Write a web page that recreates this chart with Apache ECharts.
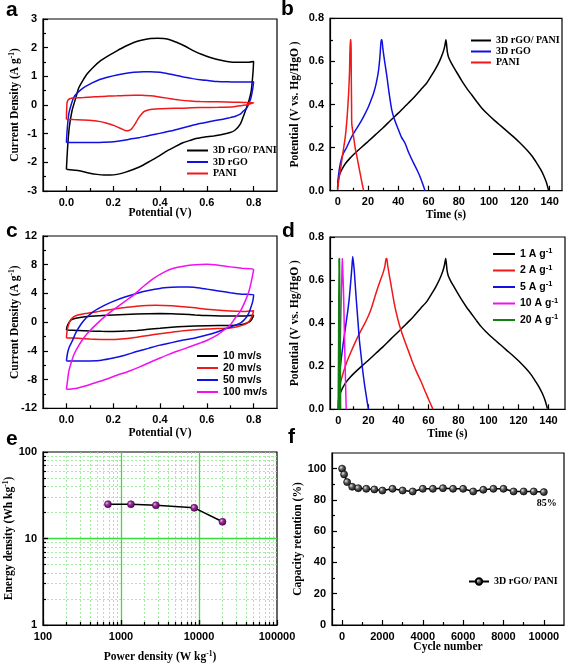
<!DOCTYPE html>
<html><head><meta charset="utf-8">
<script src="https://cdn.jsdelivr.net/npm/echarts@6/dist/echarts.min.js"></script>
<style>html,body{margin:0;padding:0;background:#fff}#c{width:567px;height:664px}</style>
</head><body><div id="c"></div><script>
// ---------- DATA ----------
// (a) CV at 10 mV/s : [potential V, current A/g]
const aCompositeCV = [[0,-2.24],[0.005,-1.5],[0.012,-0.8],[0.024,-0.2],[0.04,0.25],[0.053,0.6],[0.07,0.85],[0.088,1.08],[0.115,1.32],[0.145,1.54],[0.18,1.72],[0.216,1.89],[0.25,2.04],[0.288,2.18],[0.32,2.26],[0.359,2.32],[0.39,2.33],[0.416,2.32],[0.445,2.27],[0.473,2.18],[0.51,2.04],[0.544,1.89],[0.58,1.76],[0.615,1.66],[0.65,1.58],[0.686,1.52],[0.73,1.49],[0.77,1.49],[0.8,1.52],
  [0.798,1.2],[0.795,0.9],[0.79,0.5],[0.78,0.15],[0.765,-0.2],[0.743,-0.67],[0.72,-0.88],[0.7,-0.96],[0.66,-1.04],[0.629,-1.08],[0.59,-1.12],[0.558,-1.16],[0.53,-1.23],[0.5,-1.31],[0.465,-1.45],[0.43,-1.6],[0.395,-1.78],[0.359,-1.95],[0.325,-2.11],[0.288,-2.24],[0.25,-2.35],[0.216,-2.42],[0.188,-2.44],[0.16,-2.44],[0.131,-2.42],[0.1,-2.38],[0.074,-2.33],[0.04,-2.28],[0,-2.24]];
const aRgoCV = [[0,-1.31],[0.003,-0.9],[0.01,-0.32],[0.02,0.0],[0.031,0.26],[0.05,0.45],[0.074,0.61],[0.11,0.77],[0.145,0.9],[0.18,0.98],[0.216,1.05],[0.25,1.1],[0.288,1.14],[0.33,1.16],[0.359,1.16],[0.4,1.14],[0.43,1.1],[0.465,1.04],[0.5,0.98],[0.54,0.92],[0.572,0.88],[0.61,0.85],[0.644,0.82],[0.68,0.81],[0.715,0.8],[0.76,0.8],[0.8,0.81],
  [0.797,0.6],[0.789,0.26],[0.78,0.05],[0.772,-0.09],[0.755,-0.22],[0.743,-0.32],[0.72,-0.4],[0.7,-0.44],[0.67,-0.5],[0.629,-0.55],[0.59,-0.62],[0.558,-0.67],[0.52,-0.75],[0.487,-0.82],[0.45,-0.9],[0.416,-0.96],[0.38,-1.02],[0.345,-1.08],[0.31,-1.14],[0.273,-1.19],[0.24,-1.24],[0.202,-1.28],[0.16,-1.3],[0.131,-1.31],[0.06,-1.31],[0,-1.31]];
const aPaniCV = [[0,-0.5],[0.001,-0.2],[0.003,0.09],[0.008,0.18],[0.017,0.23],[0.04,0.25],[0.074,0.26],[0.11,0.28],[0.145,0.3],[0.18,0.31],[0.216,0.32],[0.25,0.33],[0.288,0.34],[0.32,0.34],[0.359,0.32],[0.39,0.29],[0.43,0.24],[0.46,0.2],[0.487,0.17],[0.53,0.14],[0.572,0.12],[0.65,0.11],[0.715,0.1],[0.76,0.09],[0.8,0.08],
  [0.79,0.05],[0.772,0.01],[0.74,-0.03],[0.715,-0.06],[0.65,-0.08],[0.572,-0.09],[0.5,-0.11],[0.43,-0.12],[0.38,-0.14],[0.359,-0.16],[0.34,-0.2],[0.33,-0.24],[0.32,-0.33],[0.309,-0.44],[0.298,-0.6],[0.288,-0.73],[0.28,-0.82],[0.273,-0.87],[0.262,-0.9],[0.252,-0.89],[0.235,-0.83],[0.224,-0.79],[0.205,-0.72],[0.188,-0.67],[0.165,-0.62],[0.145,-0.58],[0.11,-0.54],[0.074,-0.52],[0.03,-0.51],[0,-0.5]];
const aNames = ['3D rGO/ PANI', '3D rGO', 'PANI'];

// (b) GCD at 1 A/g : [time s, potential V]
const bCompositeGCD = [[0,0.035],[1,0.07],[2.5,0.095],[5,0.125],[8,0.15],[10.5,0.168],[15,0.197],[20,0.228],[25,0.26],[30,0.292],[35,0.327],[40,0.36],[45,0.395],[50,0.43],[55,0.47],[58.8,0.5],[62,0.535],[65,0.57],[67.5,0.605],[69.5,0.64],[70.7,0.67],[71.5,0.70],
  [71.9,0.68],[72.4,0.645],[73.2,0.62],[74.5,0.6],[76.5,0.575],[79,0.545],[82,0.51],[85.3,0.475],[88.5,0.445],[91.9,0.413],[95,0.385],[98.5,0.359],[103,0.33],[107.4,0.303],[112,0.275],[116.2,0.25],[120,0.225],[125,0.189],[128.5,0.16],[131.6,0.127],[134,0.1],[136,0.072],[137.8,0.04],[139.3,0.003]];
const bRgoGCD = [[0,0.02],[0.5,0.07],[1.75,0.127],[3.5,0.17],[6.1,0.204],[8.5,0.24],[10.5,0.266],[14,0.305],[17.1,0.344],[20,0.385],[22,0.42],[23.7,0.452],[25.5,0.5],[27,0.56],[28,0.63],[28.7,0.70],
  [29.2,0.70],[29.8,0.66],[31,0.6],[32.5,0.53],[34,0.45],[35.7,0.375],[37.5,0.33],[40,0.285],[42,0.25],[44.5,0.22],[47,0.175],[50,0.13],[52.5,0.095],[54.4,0.065],[56,0.035],[57.7,0.0]];
const bPaniGCD = [[0,0.003],[0.5,0.04],[1.75,0.096],[3.3,0.17],[5,0.25],[6.2,0.34],[7.2,0.452],[7.8,0.55],[8.3,0.70],
  [8.8,0.70],[8.9,0.6],[9.0,0.5],[9.15,0.4],[9.3,0.31],[10.5,0.25],[11.5,0.2],[12.7,0.158],[14,0.11],[15.5,0.055],[17.1,0.0]];

// (c) CV of 3D rGO/PANI at different scan rates
const cScan10 = [[0,-1.1],[0.003,-0.6],[0.01,-0.1],[0.02,0.3],[0.04,0.55],[0.08,0.75],[0.14,0.9],[0.2,1.0],[0.3,1.15],[0.4,1.2],[0.45,1.18],[0.5,1.1],[0.55,1.0],[0.6,0.92],[0.7,0.85],[0.76,0.85],[0.8,0.95],
  [0.797,0.7],[0.79,0.3],[0.78,0.0],[0.76,-0.25],[0.74,-0.38],[0.7,-0.45],[0.6,-0.5],[0.5,-0.6],[0.45,-0.7],[0.4,-0.85],[0.35,-1.0],[0.3,-1.15],[0.25,-1.25],[0.2,-1.3],[0.15,-1.28],[0.1,-1.22],[0.05,-1.15],[0,-1.1]];
const cScan20 = [[0,-2.2],[0.003,-1.2],[0.01,-0.3],[0.02,0.4],[0.04,0.9],[0.08,1.2],[0.14,1.5],[0.2,1.8],[0.3,2.2],[0.38,2.35],[0.45,2.3],[0.5,2.15],[0.55,2.0],[0.6,1.8],[0.7,1.55],[0.76,1.5],[0.8,1.6],
  [0.797,1.2],[0.79,0.6],[0.78,0.1],[0.76,-0.35],[0.73,-0.65],[0.7,-0.8],[0.6,-0.95],[0.5,-1.2],[0.45,-1.4],[0.4,-1.6],[0.35,-1.85],[0.3,-2.1],[0.25,-2.3],[0.2,-2.4],[0.15,-2.4],[0.1,-2.35],[0.05,-2.25],[0,-2.2]];
const cScan50 = [[0,-5.4],[0.005,-4.3],[0.012,-3.5],[0.024,-2.7],[0.04,-1.5],[0.06,-0.4],[0.085,0.6],[0.117,1.5],[0.16,2.3],[0.2,2.9],[0.25,3.5],[0.3,4.0],[0.35,4.4],[0.4,4.7],[0.45,4.85],[0.48,4.9],[0.52,4.88],[0.56,4.8],[0.6,4.6],[0.65,4.35],[0.7,4.1],[0.75,3.9],[0.8,3.8],
  [0.797,3.0],[0.79,2.2],[0.78,1.3],[0.765,0.5],[0.745,-0.1],[0.72,-0.45],[0.7,-0.7],[0.65,-1.3],[0.6,-1.8],[0.55,-2.2],[0.5,-2.5],[0.45,-2.85],[0.4,-3.2],[0.35,-3.65],[0.3,-4.1],[0.25,-4.6],[0.2,-5.0],[0.15,-5.3],[0.1,-5.4],[0.05,-5.42],[0,-5.4]];
const cScan100 = [[0,-9.35],[0.005,-8.1],[0.01,-6.9],[0.02,-5.7],[0.031,-4.6],[0.05,-3.4],[0.074,-2.2],[0.1,-1.2],[0.131,-0.2],[0.165,0.8],[0.2,1.7],[0.25,2.9],[0.288,3.8],[0.33,5.0],[0.373,6.1],[0.42,7.0],[0.458,7.5],[0.5,7.8],[0.55,8.0],[0.6,8.05],[0.644,7.95],[0.7,7.7],[0.75,7.5],[0.8,7.35],
  [0.795,6.4],[0.788,5.3],[0.779,4.2],[0.765,3.0],[0.743,1.5],[0.72,0.5],[0.7,-0.4],[0.67,-1.2],[0.644,-1.8],[0.6,-2.55],[0.572,-2.9],[0.53,-3.4],[0.487,-3.9],[0.44,-4.45],[0.4,-5.0],[0.36,-5.55],[0.316,-6.2],[0.27,-6.8],[0.216,-7.4],[0.17,-7.95],[0.117,-8.5],[0.08,-8.9],[0.046,-9.2],[0.02,-9.3],[0,-9.35]];
const cNames = ['10 mv/s', '20 mv/s', '50 mv/s', '100 mv/s'];

// (d) GCD of 3D rGO/PANI at different current densities
const dCurrent1 = bCompositeGCD;
const dCurrent2 = [[0,0.0],[0.3,0.06],[0.8,0.1],[2,0.14],[5.1,0.21],[8,0.26],[11.8,0.32],[15,0.365],[18.4,0.41],[21.5,0.46],[25.1,0.54],[27.5,0.59],[29.6,0.63],[31,0.665],[31.8,0.70],
  [32.3,0.70],[32.8,0.67],[34,0.62],[35.5,0.56],[37,0.5],[38.5,0.45],[40.7,0.39],[43,0.34],[45.1,0.3],[47.5,0.255],[49.6,0.215],[52,0.175],[55,0.13],[58,0.08],[60.5,0.04],[63,0.0]];
const dCurrent5 = [[0,0.0],[0.3,0.06],[1.1,0.18],[2,0.24],[2.9,0.29],[4,0.345],[5.1,0.40],[6.2,0.455],[7.3,0.52],[8.3,0.6],[9,0.66],[9.6,0.71],
  [10,0.71],[10.5,0.65],[11.2,0.58],[11.8,0.52],[12.9,0.42],[14,0.32],[15.1,0.25],[16.2,0.18],[17.3,0.12],[18.4,0.07],[19.3,0.03],[20,0.0]];
const dCurrent10 = [[0,0.0],[0.5,0.12],[1.2,0.3],[1.8,0.48],[2.3,0.62],[2.6,0.70],[3.0,0.70],[3.4,0.55],[4.0,0.35],[4.6,0.17],[5.2,0.0]];
const dCurrent20 = [[0,0.0],[0.3,0.3],[0.55,0.70],[0.8,0.70],[1.0,0.35],[1.3,0.0]];
const dNames = ['1 A g-1', '2 A g-1', '5 A g-1', '10 A g-1', '20 A g-1'];

// (e) Ragone plot
const ePower = [680, 1340, 2800, 8700, 20000];
const eEnergy = [24.9, 24.9, 24.2, 22.6, 15.6];

// (f) cycling stability
const fCycles = [0,100,250,500,800,1200,1600,2000,2500,3000,3500,4000,4500,5000,5500,6000,6500,7000,7500,8000,8500,9000,9500,10000];
const fRetention = [100,96.3,91.4,88.4,87.5,87.1,86.7,86.0,87.1,86.0,85.4,87.1,87.1,87.5,87.1,87.1,85.4,86.5,87.1,87.1,85.4,85.4,85.4,85.0];
const fName = '3D rGO/ PANI';

// tick labels
const cvXTicks = [0, 0.2, 0.4, 0.6, 0.8];
const cvXMinor = [0.1, 0.3, 0.5, 0.7];
const aYTicks = [-3, -2, -1, 0, 1, 2, 3];
const aYMinor = [-2.5, -1.5, -0.5, 0.5, 1.5, 2.5];
const gcdXTicks = [0, 20, 40, 60, 80, 100, 120, 140];
const gcdXMinor = [10, 30, 50, 70, 90, 110, 130];
const gcdYTicks = [0, 0.2, 0.4, 0.6, 0.8];
const gcdYMinor = [0.1, 0.3, 0.5, 0.7];
const cYTicks = [-12, -8, -4, 0, 4, 8, 12];
const cYMinor = [-10, -6, -2, 2, 6, 10];
const fXTicks = [0, 2000, 4000, 6000, 8000, 10000];
const fXMinor = [1000, 3000, 5000, 7000, 9000];
const fYTicks = [0, 20, 40, 60, 80, 100];
const fYMinor = [10, 30, 50, 70, 90];
const eXDecades = [100, 1000, 10000, 100000];
const eYDecades = [1, 10, 100];

// ---------- STYLE / LAYOUT ----------
const SERIF = '"Liberation Serif", "Times New Roman", serif';
const SANS = '"Liberation Sans", Arial, sans-serif';
const RICH = {
  t: {fontFamily: SERIF, fontWeight: 'bold', fontSize: 11.5, color: '#000', lineHeight: 14},
  s: {fontFamily: SERIF, fontWeight: 'bold', fontSize: 7.5, color: '#000', verticalAlign: 'top', lineHeight: 14}
};
const sup = (a, b, c) => '{t|' + a + '}{s|' + b + '}' + (c ? '{t|' + c + '}' : '');

function grid(l, t, w, h) {
  return {left: l, top: t, width: w, height: h, show: true, borderColor: '#000', borderWidth: 1.2,
    backgroundColor: 'rgba(0,0,0,0)', containLabel: false, outerBoundsMode: 'none'};
}
function axes(dim, gi, o) {
  const isX = dim === 'x';
  const pos = isX ? 'bottom' : 'left';
  const main = {
    type: o.log ? 'log' : 'value', gridIndex: gi, min: o.min, max: o.max, position: pos,
    axisLine: {show: true, onZero: false, lineStyle: {color: '#000', width: 1.2}},
    axisTick: {show: true, inside: true, length: 5, lineStyle: {color: '#000', width: 1.2}},
    axisLabel: {show: true, color: '#000', fontFamily: SANS, fontWeight: 'bold', fontSize: 11, margin: 6, formatter: o.fmt},
    splitLine: {show: false},
    name: o.name, nameLocation: 'middle', nameGap: o.gap, nameMoveOverlap: false,
    nameTextStyle: {fontFamily: SERIF, fontWeight: 'bold', fontSize: 11.5, color: '#000', rich: RICH}
  };
  if (o.log) main.logBase = 10;
  if (o.majors) { main.axisTick.customValues = o.majors; main.axisLabel.customValues = o.majors; }
  const minor = {
    type: 'value', gridIndex: gi, min: o.mmin != null ? o.mmin : o.min, max: o.mmax != null ? o.mmax : o.max, position: pos,
    axisLine: {show: false, onZero: false}, axisLabel: {show: false},
    axisTick: {show: true, inside: true, length: 3, customValues: o.minors, lineStyle: {color: '#000', width: 1.2}},
    splitLine: o.minorColor ? {show: true, lineStyle: {color: o.minorColor, width: 0.8, type: [2, 2]}} : {show: false}
  };
  return [main, minor];
}
// helper axis (log10 space) that only draws the solid major grid lines of panel e
function majorGridAxis(dim, gi, lo, hi, vals) {
  return {type: 'value', gridIndex: gi, min: lo, max: hi, position: dim === 'x' ? 'bottom' : 'left', z: 2,
    axisLine: {show: false, onZero: false}, axisLabel: {show: false},
    axisTick: {show: true, inside: true, length: 5, customValues: vals, lineStyle: {color: '#000', width: 1.2}},
    splitLine: {show: true, lineStyle: {color: '#3ddc3d', width: 1.3, type: 'solid'}}};
}
const f1 = v => v.toFixed(1);
const f0 = v => String(Math.round(v));

// grid-line positions of the log panel (decoration), expressed in log10 space
const eXMinorLog = [], eYMinorLog = [];
[100, 1000, 10000].forEach(d => { for (let k = 2; k <= 9; k++) eXMinorLog.push(Math.log10(k * d)); });
[1, 10].forEach(d => { for (let k = 2; k <= 9; k++) eYMinorLog.push(Math.log10(k * d)); });
const eXMajorLog = eXDecades.slice(1, -1).map(Math.log10);
const eYMajorLog = eYDecades.slice(1, -1).map(Math.log10);

const xAxes = [].concat(
  axes('x', 0, {min: -0.1, max: 0.9, majors: cvXTicks, minors: cvXMinor, fmt: f1, name: '{t|Potential (V)}', gap: 15}),
  axes('x', 1, {min: -5.1, max: 148.2, majors: gcdXTicks, minors: gcdXMinor, fmt: f0, name: '{t|Time (s)}', gap: 17}),
  axes('x', 2, {min: -0.1, max: 0.9, majors: cvXTicks, minors: cvXMinor, fmt: f1, name: '{t|Potential (V)}', gap: 18}),
  axes('x', 3, {min: -5.6, max: 151, majors: gcdXTicks, minors: gcdXMinor, fmt: f0, name: '{t|Time (s)}', gap: 18}),
  axes('x', 4, {log: true, min: 100, max: 100000, mmin: 2, mmax: 5, minors: eXMinorLog, fmt: f0, minorColor: '#8fe88f', name: sup('Power density (W kg', '-1', ')'), gap: 25}),
  axes('x', 5, {min: -500, max: 11000, majors: fXTicks, minors: fXMinor, fmt: f0, name: '{t|Cycle number}', gap: 15}),
  [majorGridAxis('x', 4, 2, 5, eXMajorLog)]
);
const yAxes = [].concat(
  axes('y', 0, {min: -3, max: 3, majors: aYTicks, minors: aYMinor, fmt: f0, name: sup('Current Density (A g', '-1', ')'), gap: 21}),
  axes('y', 1, {min: 0, max: 0.8, majors: gcdYTicks, minors: gcdYMinor, fmt: f1, name: '{t|Potential (V vs. Hg/HgO )}', gap: 28}),
  axes('y', 2, {min: -12, max: 12, majors: cYTicks, minors: cYMinor, fmt: f0, name: sup('Current Density (A g', '-1', ')'), gap: 21}),
  axes('y', 3, {min: 0, max: 0.8, majors: gcdYTicks, minors: gcdYMinor, fmt: f1, name: '{t|Potential (V vs. Hg/HgO )}', gap: 28}),
  axes('y', 4, {log: true, min: 1, max: 100, mmin: 0, mmax: 2, minors: eYMinorLog, fmt: f0, minorColor: '#8fe88f', name: sup('Energy density (Wh kg', '-1', ')'), gap: 27}),
  axes('y', 5, {min: 0, max: 110, majors: fYTicks, minors: fYMinor, fmt: f0, name: '{t|Capacity retention (%)}', gap: 27}),
  [majorGridAxis('y', 4, 0, 2, eYMajorLog)]
);

function curve(name, gi, data, color, w) {
  return {type: 'line', name: name, xAxisIndex: 2 * gi, yAxisIndex: 2 * gi, data: data, symbol: 'none', showSymbol: false,
    smooth: 0.2, lineStyle: {color: color, width: w || 1.5}, itemStyle: {color: color}, animation: false, z: 3};
}
const series = [
  curve(aNames[0], 0, aCompositeCV, '#000'),
  curve(aNames[1], 0, aRgoCV, '#1010e0'),
  curve(aNames[2], 0, aPaniCV, '#f01818'),
  curve(aNames[0], 1, bCompositeGCD, '#000'),
  curve(aNames[1], 1, bRgoGCD, '#1010e0'),
  curve(aNames[2], 1, bPaniGCD, '#f01818'),
  curve(cNames[0], 2, cScan10, '#000'),
  curve(cNames[1], 2, cScan20, '#f01818'),
  curve(cNames[2], 2, cScan50, '#1010e0'),
  curve(cNames[3], 2, cScan100, '#f010f0'),
  curve(dNames[0], 3, dCurrent1, '#000'),
  curve(dNames[1], 3, dCurrent2, '#f01818'),
  curve(dNames[2], 3, dCurrent5, '#1010e0'),
  curve(dNames[3], 3, dCurrent10, '#f010f0'),
  curve(dNames[4], 3, dCurrent20, '#108010', 2),
  {type: 'line', name: 'ragone', xAxisIndex: 8, yAxisIndex: 8, animation: false, z: 4,
    data: ePower.map((p, i) => [p, eEnergy[i]]),
    symbol: 'circle', symbolSize: 7,
    lineStyle: {color: '#000', width: 1.5},
    itemStyle: {color: {type: 'radial', x: 0.35, y: 0.35, r: 0.75, colorStops: [{offset: 0, color: '#f0b8f0'}, {offset: 0.35, color: '#9a2a9a'}, {offset: 1, color: '#4a004a'}]},
      borderColor: '#3a003a', borderWidth: 0.6}},
  {type: 'line', name: fName + ' (f)', xAxisIndex: 10, yAxisIndex: 10, animation: false, z: 4,
    data: fCycles.map((c, i) => [c, fRetention[i]]),
    symbol: 'circle', symbolSize: 7,
    lineStyle: {color: '#000', width: 1.5},
    itemStyle: {color: {type: 'radial', x: 0.35, y: 0.35, r: 0.75, colorStops: [{offset: 0, color: '#e8e8e8'}, {offset: 0.4, color: '#555'}, {offset: 1, color: '#111'}]},
      borderColor: '#000', borderWidth: 0.7},
    label: {show: true, position: 'bottom', distance: 2, offset: [3, 0], fontFamily: SERIF, fontWeight: 'bold', fontSize: 10, color: '#000',
      formatter: p => p.dataIndex === fCycles.length - 1 ? Math.round(p.value[1]) + '%' : ''}}
];

const legTextSerif = {fontFamily: SERIF, fontWeight: 'bold', fontSize: 10, color: '#000', lineHeight: 11};
const legTextSans = {fontFamily: SANS, fontWeight: 'bold', fontSize: 10.5, color: '#000', lineHeight: 12};
const legend = [
  {data: aNames, left: 187, top: 145, orient: 'vertical', padding: 0, icon: 'rect', itemWidth: 21, itemHeight: 2, itemGap: 0.5, selectedMode: false, textStyle: legTextSerif},
  {data: aNames, left: 471, top: 35, orient: 'vertical', padding: 0, icon: 'rect', itemWidth: 20, itemHeight: 2, itemGap: 0, selectedMode: false, textStyle: legTextSerif},
  {data: cNames, left: 197, top: 350, orient: 'vertical', padding: 0, icon: 'rect', itemWidth: 21, itemHeight: 2, itemGap: 0, selectedMode: false, textStyle: legTextSans},
  {data: dNames, left: 493, top: 247, orient: 'vertical', padding: 0, icon: 'rect', itemWidth: 22, itemHeight: 2, itemGap: 4, selectedMode: false,
    formatter: n => '{n|' + n.replace('-1', '') + '}{s|-1}',
    textStyle: {color: '#000', rich: {n: {fontFamily: SANS, fontWeight: 'bold', fontSize: 10.5, color: '#000', lineHeight: 14}, s: {fontFamily: SANS, fontWeight: 'bold', fontSize: 7.5, color: '#000', verticalAlign: 'top', lineHeight: 14}}}},
  {data: [fName + ' (f)'], left: 468, top: 576, orient: 'vertical', padding: 0, itemWidth: 20, itemHeight: 8, selectedMode: false,
    formatter: n => n.replace(' (f)', ''), textStyle: legTextSerif}
];

const letter = (t, x, y) => ({type: 'text', left: x, top: y, style: {text: t, font: 'bold 21px ' + SANS, fill: '#000'}});
const graphic = [letter('a', 6, 0), letter('b', 281, -1), letter('c', 6, 221), letter('d', 282, 221), letter('e', 6, 429), letter('f', 288, 427)];

const chart = echarts.init(document.getElementById('c'), null, {renderer: 'canvas'});
chart.setOption({
  backgroundColor: '#fff', animation: false,
  grid: [grid(43, 19, 234, 172), grid(330, 18.3, 232, 172.4), grid(43, 236, 234, 172.3), grid(330, 237, 235, 172.3), grid(43, 452, 234, 173), grid(332, 453, 232, 172)],
  xAxis: xAxes, yAxis: yAxes, series: series, legend: legend, graphic: graphic
});
</script></body></html>
